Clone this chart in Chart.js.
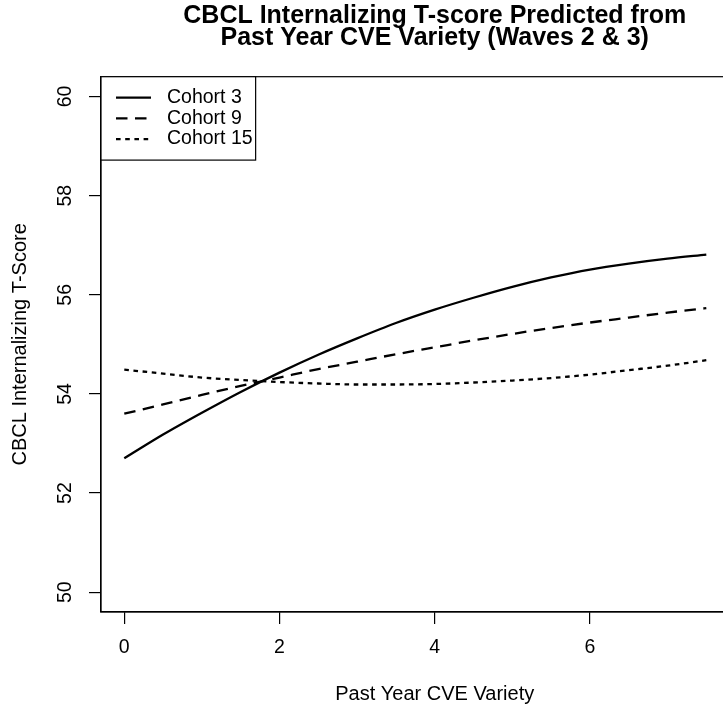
<!DOCTYPE html>
<html>
<head>
<meta charset="utf-8">
<title>CBCL Internalizing T-score</title>
<script src="https://cdn.jsdelivr.net/npm/chart.js@4.4.1/dist/chart.umd.min.js"></script>
<style>
  html, body { margin: 0; padding: 0; background: #fff; overflow: hidden; }
  #wrap { width: 800px; height: 706px; }
  canvas { display: block; }
</style>
</head>
<body>
<div id="wrap"><canvas id="cveChart" width="800" height="706"></canvas></div>
<script>
// predicted CBCL internalizing T-scores by past year CVE variety
const cveVariety = [0, 0.5, 1, 1.5, 2, 2.5, 3, 3.5, 4, 4.5, 5, 5.5, 6, 6.5, 7, 7.5];
const cohort3 = [52.70, 53.18, 53.62, 54.04, 54.43, 54.79, 55.12, 55.43, 55.70, 55.94, 56.16, 56.35, 56.51, 56.63, 56.73, 56.81];
const cohort9 = [53.60, 53.79, 53.98, 54.16, 54.33, 54.50, 54.65, 54.80, 54.94, 55.08, 55.21, 55.33, 55.44, 55.54, 55.64, 55.73];
const cohort15 = [54.49, 54.41, 54.33, 54.28, 54.24, 54.21, 54.19, 54.19, 54.20, 54.23, 54.27, 54.32, 54.39, 54.48, 54.57, 54.68];

const seriesNames = ["Cohort 3", "Cohort 9", "Cohort 15"];
const xTicks = [0, 2, 4, 6];
const yTicks = [50, 52, 54, 56, 58, 60];
const titleLines = ["CBCL Internalizing T-score Predicted from", "Past Year CVE Variety (Waves 2 & 3)"];

const FONT = '"Liberation Sans", Arial, Helvetica, sans-serif';

function toPoints(ys) {
  return cveVariety.map((x, i) => ({ x: x, y: ys[i] }));
}

// two-line bold title centred over the plot region
const mainTitle = {
  id: "mainTitle",
  afterDraw(chart) {
    const { ctx, chartArea } = chart;
    const cx = (chartArea.left + chartArea.right) / 2;
    ctx.save();
    ctx.font = "bold 25px " + FONT;
    ctx.fillStyle = "#000";
    ctx.textAlign = "center";
    ctx.textBaseline = "alphabetic";
    titleLines.forEach((t, i) => ctx.fillText(t, cx, 23 + i * 22));
    ctx.restore();
  }
};

// box around the plot region
const plotFrame = {
  id: "plotFrame",
  afterDatasetsDraw(chart) {
    const { ctx, chartArea: a } = chart;
    ctx.save();
    ctx.strokeStyle = "#000";
    ctx.lineWidth = 1.2;
    ctx.strokeRect(a.left, a.top, a.right - a.left, a.bottom - a.top);
    ctx.restore();
  }
};

// boxed legend in the top-left corner, line samples taken from the datasets
const boxLegend = {
  id: "boxLegend",
  afterDraw(chart) {
    const { ctx, chartArea: a } = chart;
    const sets = chart.data.datasets;
    const rowH = 20.7;
    ctx.save();
    ctx.font = "19.5px " + FONT;
    const widest = Math.max(...sets.map(d => ctx.measureText(d.label).width));
    const w = 66 + widest + 3;
    const h = 42 + rowH * (sets.length - 1);
    ctx.fillStyle = "#fff";
    ctx.fillRect(a.left, a.top, w, h);
    ctx.strokeStyle = "#000";
    ctx.lineWidth = 1.2;
    ctx.strokeRect(a.left, a.top, w, h);
    sets.forEach((d, i) => {
      const y = a.top + 21 + i * rowH;
      ctx.beginPath();
      ctx.setLineDash(d.borderDash || []);
      ctx.lineWidth = d.borderWidth;
      ctx.moveTo(a.left + 15, y);
      ctx.lineTo(a.left + 50, y);
      ctx.stroke();
      ctx.setLineDash([]);
      ctx.fillStyle = "#000";
      ctx.textBaseline = "middle";
      ctx.textAlign = "left";
      ctx.fillText(d.label, a.left + 66, y);
    });
    ctx.restore();
  }
};

const lineStyle = {
  borderColor: "#000",
  borderWidth: 2.3,
  pointRadius: 0,
  fill: false,
  cubicInterpolationMode: "monotone"
};

const ctx = document.getElementById("cveChart").getContext("2d");
const chart = new Chart(ctx, {
  type: "line",
  data: {
    datasets: [
      Object.assign({ label: seriesNames[0], data: toPoints(cohort3), borderDash: [] }, lineStyle),
      Object.assign({ label: seriesNames[1], data: toPoints(cohort9), borderDash: [11.5, 7.5] }, lineStyle),
      Object.assign({ label: seriesNames[2], data: toPoints(cohort15), borderDash: [4.6, 4.6] }, lineStyle)
    ]
  },
  plugins: [plotFrame, boxLegend, mainTitle],
  options: {
    responsive: false,
    devicePixelRatio: 1,
    animation: false,
    layout: { padding: { top: 76.7, left: 0, right: 31.6, bottom: 0 } },
    plugins: {
      legend: { display: false },
      title: { display: false },
      tooltip: { enabled: false }
    },
    scales: {
      x: {
        type: "linear",
        min: -0.3,
        max: 8.3,
        afterBuildTicks: (scale) => { scale.ticks = xTicks.map(v => ({ value: v })); },
        afterFit: (scale) => { scale.height = 94; },
        grid: { drawOnChartArea: false, drawTicks: true, tickLength: 12, tickColor: "#000", lineWidth: 1.2 },
        border: { display: true, color: "#000", width: 1.2 },
        ticks: { color: "#000", padding: 12, font: { family: FONT, size: 19.5 } },
        title: {
          display: true,
          text: "Past Year CVE Variety",
          color: "#000",
          font: { family: FONT, size: 20 },
          padding: { top: 0, bottom: 0 }
        }
      },
      y: {
        type: "linear",
        min: 49.6,
        max: 60.4,
        afterBuildTicks: (scale) => { scale.ticks = yTicks.map(v => ({ value: v })); },
        afterFit: (scale) => { scale.width = 101; },
        grid: { drawOnChartArea: false, drawTicks: true, tickLength: 12, tickColor: "#000", lineWidth: 1.2 },
        border: { display: true, color: "#000", width: 1.2 },
        ticks: {
          color: "#000",
          padding: 13,
          minRotation: 90,
          maxRotation: 90,
          crossAlign: "center",
          font: { family: FONT, size: 19.5 }
        },
        title: {
          display: true,
          text: "CBCL Internalizing T-Score",
          color: "#000",
          font: { family: FONT, size: 20 },
          padding: { top: 8, bottom: 0 }
        }
      }
    }
  }
});
</script>
</body>
</html>
